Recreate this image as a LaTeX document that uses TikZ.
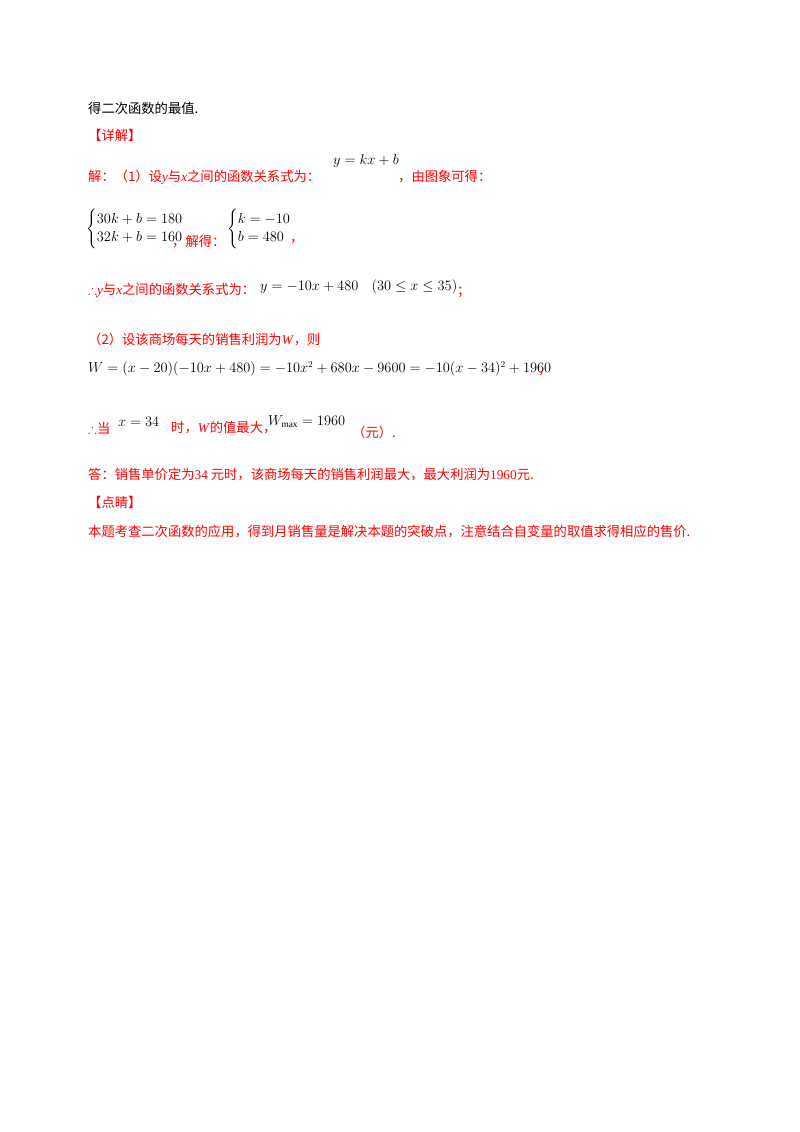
\documentclass[tikz,border=0pt]{standalone}
\usepackage{amsmath,amssymb}
\usepackage{fontspec}
\setmainfont{Liberation Serif}
\newfontfamily\cjk{Noto Sans CJK SC}
\begin{document}
\begin{tikzpicture}[x=1pt,y=-1pt,
  t/.style={anchor=west,inner sep=0pt,font=\fontsize{13.3}{15}\selectfont\cjk},
  r/.style={t,text=red},
  m/.style={anchor=west,inner sep=0pt,font=\fontsize{13.3}{15}\selectfont}]
\useasboundingbox (0,0) rectangle (800,1132);
\node[t] (l1) at (88,108) {得二次函数的最值.};
\node[r] (l2) at (88,135) {【详解】};
\node[r] (l3) at (88,177) {解：（1）设\textrm{\itshape y}与\textrm{\itshape x}之间的函数关系式为：};
\node[m] (f1) at (333,161) {$y=kx+b$};
\node[r] (l3b) at (398,177) {，由图象可得：};
\node[m] (s1) at (86,229) {$\begin{cases}30k+b=180\\32k+b=160\end{cases}$};
\node[r] (l4) at (172,242) {，解得：};
\node[m] (s2) at (227,229) {$\begin{cases}k=-10\\b=480\end{cases}$};
\node[r] (l4b) at (290,242) {，};
\node[r] (l5) at (88,290) {$\therefore$\textrm{\itshape y}与\textrm{\itshape x}之间的函数关系式为：};
\node[m] (f2) at (260,287) {$y=-10x+480\quad(30\le x\le 35)$};
\node[r] (l5b) at (457,292) {；};
\node[r] (l6) at (88,340) {（2）设该商场每天的销售利润为\textrm{\itshape W}，则};
\node[m] (f3) at (88,369) {$W=(x-20)(-10x+480)=-10x^2+680x-9600=-10(x-34)^2+1960$};
\node[r] (l7b) at (538,374) {，};
\node[r] (l8) at (88,428) {$\therefore$当};
\node[m] (f4) at (118,422) {$x=34$};
\node[r] (l8b) at (171,428) {时，\textrm{\itshape W}的值最大，};
\node[m] (f5) at (268,422) {$W_{\max}=1960$};
\node[r] (l8c) at (352,432) {（元）.};
\node[r] (l9) at (88,475) {答：销售单价定为\textrm{34} 元时，该商场每天的销售利润最大，最大利润为\textrm{1960}元.};
\node[r] (l10) at (88,502) {【点睛】};
\node[r] (l11) at (88,532) {本题考查二次函数的应用，得到月销售量是解决本题的突破点，注意结合自变量的取值求得相应的售价.};
\end{tikzpicture}
\end{document}
